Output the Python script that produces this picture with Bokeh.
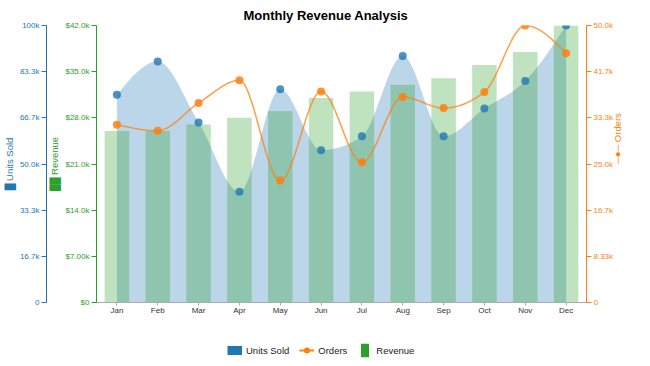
import math
import numpy as np
from bokeh.plotting import figure
from bokeh.models import (Range1d, LinearAxis, FixedTicker, ColumnDataSource, Legend,
                          LegendItem)
from bokeh.layouts import column
from bokeh.embed import file_html
from bokeh.resources import INLINE

# ---------------- data ----------------
months = ["Jan", "Feb", "Mar", "Apr", "May", "Jun", "Jul", "Aug", "Sep", "Oct", "Nov", "Dec"]
units_sold = [75000, 87000, 65000, 40000, 77000, 55000, 60000, 89000, 60000, 70000, 80000, 100000]
orders = [32100, 31000, 36000, 40100, 22000, 38100, 25300, 37100, 35100, 38000, 50000, 45000]
revenue = [26000, 26000, 27000, 28000, 29000, 31000, 32000, 33000, 34000, 36000, 38000, 42000]

revenue_ticks = [0, 7000, 14000, 21000, 28000, 35000, 42000]
revenue_tick_labels = ["$0", "$7.00k", "$14.0k", "$21.0k", "$28.0k", "$35.0k", "$42.0k"]
units_ticks = [0, 100000 / 6, 200000 / 6, 50000, 400000 / 6, 500000 / 6, 100000]
units_tick_labels = ["0", "16.7k", "33.3k", "50.0k", "66.7k", "83.3k", "100k"]
orders_ticks = [0, 50000 / 6, 100000 / 6, 25000, 200000 / 6, 250000 / 6, 50000]
orders_tick_labels = ["0", "8.33k", "16.7k", "25.0k", "33.3k", "41.7k", "50.0k"]

BLUE, ORANGE, GREEN = "#1f77b4", "#ff7f0e", "#2ca02c"
FONT = "Liberation Sans"


def monotone_curve(ys, n=30):
    """Monotone-X cubic (as d3.curveMonotoneX) through points at x = 0..len-1."""
    y = np.asarray(ys, dtype=float)
    m = len(y)
    s = np.diff(y)
    t = np.zeros(m)
    for i in range(1, m - 1):
        s0, s1 = s[i - 1], s[i]
        p = (s0 + s1) / 2.0
        t[i] = (np.sign(s0) + np.sign(s1)) * min(abs(s0), abs(s1), 0.5 * abs(p))
    t[0] = (3 * s[0] - t[1]) / 2.0
    t[-1] = (3 * s[-1] - t[-2]) / 2.0
    xs, yy = [], []
    u = np.linspace(0, 1, n, endpoint=False)
    for i in range(m - 1):
        h00 = 2 * u**3 - 3 * u**2 + 1
        h10 = u**3 - 2 * u**2 + u
        h01 = -2 * u**3 + 3 * u**2
        h11 = u**3 - u**2
        xs.extend(i + u)
        yy.extend(h00 * y[i] + h10 * t[i] + h01 * y[i + 1] + h11 * t[i + 1])
    xs.append(m - 1)
    yy.append(y[-1])
    return np.array(xs), np.array(yy)


idx = list(range(len(months)))
ux, uy = monotone_curve(units_sold)
ox, oy = monotone_curve(orders)

src = ColumnDataSource(dict(x=idx, month=months, units=units_sold, orders=orders, revenue=revenue))

p = figure(width=650, height=334, x_range=Range1d(-0.5, 11.5), y_range=Range1d(0, 42000),
           output_backend="svg", toolbar_location=None, title="Monthly Revenue Analysis",
           min_border_left=96, min_border_right=64, min_border_top=25, min_border_bottom=32)
p.extra_y_ranges = {"units": Range1d(0, 100000), "orders": Range1d(0, 50000)}
p.grid.visible = False
p.outline_line_color = None
p.background_fill_color = "white"

p.title.align = "left"
p.title.offset = 147
p.title.text_font = FONT
p.title.text_font_size = "13px"
p.title.text_font_style = "bold"
p.title.text_color = "#000000"
p.title.standoff = 6

# glyphs
p.varea(x=ux, y1=0, y2=uy, y_range_name="units", fill_color=BLUE, fill_alpha=0.3)
p.vbar(x="x", top="revenue", width=0.6, source=src, fill_color=GREEN, fill_alpha=0.3, line_color=None)
p.line(x=ox, y=oy, y_range_name="orders", line_color=ORANGE, line_width=1.5, line_alpha=0.75)
p.scatter(x="x", y="units", source=src, y_range_name="units", size=8, fill_color=BLUE,
          fill_alpha=0.8, line_color=None)
p.scatter(x="x", y="orders", source=src, y_range_name="orders", size=8, fill_color=ORANGE,
          fill_alpha=0.85, line_color=None)


def style_axis(ax, color, ticks, labels, label):
    ax.ticker = FixedTicker(ticks=ticks)
    ax.major_label_overrides = dict(zip(ticks, labels))
    ax.axis_line_color = color
    ax.major_tick_line_color = color
    ax.minor_tick_line_color = None
    ax.major_tick_out = 5
    ax.major_tick_in = 0
    ax.major_label_standoff = 2
    ax.major_label_text_color = color
    ax.major_label_text_font = FONT
    ax.major_label_text_font_size = "8px"
    ax.axis_label = label
    ax.axis_label_text_color = color
    ax.axis_label_text_font = FONT
    ax.axis_label_text_font_size = "9.5px"
    ax.axis_label_text_font_style = "normal"


# revenue (inner left); each axis title is preceded by its series swatch
style_axis(p.yaxis[0], GREEN, revenue_ticks, revenue_tick_labels, "\u2588\u2588 Revenue")
p.yaxis[0].axis_label_standoff = 2

units_axis = LinearAxis(y_range_name="units")
style_axis(units_axis, BLUE, units_ticks, units_tick_labels, "\u2588 Units Sold")
units_axis.axis_label_standoff = 2
p.add_layout(units_axis, "left")

orders_axis = LinearAxis(y_range_name="orders")
style_axis(orders_axis, ORANGE, orders_ticks, orders_tick_labels, "\u2500\u25cf\u2500 Orders")
orders_axis.axis_label_standoff = 1
orders_axis.axis_label_orientation = math.pi / 2
p.add_layout(orders_axis, "right")

xa = p.xaxis[0]
xa.ticker = FixedTicker(ticks=idx)
xa.major_label_overrides = dict(zip(idx, months))
xa.axis_line_color = "#aaaaaa"
xa.major_tick_line_color = "#aaaaaa"
xa.minor_tick_line_color = None
xa.major_tick_out = 3
xa.major_tick_in = 0
xa.major_label_standoff = 0
xa.major_label_text_font = FONT
xa.major_label_text_font_size = "8px"
xa.major_label_text_color = "#333333"

# ---------------- legend strip ----------------
lg = figure(width=650, height=32, x_range=Range1d(0, 1), y_range=Range1d(0, 1),
            output_backend="svg", toolbar_location=None, x_axis_type=None, y_axis_type=None,
            min_border=0)
lg.grid.visible = False
lg.outline_line_color = None
dummy = ColumnDataSource(dict(x=[np.nan], y=[np.nan], top=[np.nan]))
r_units = lg.line(x="x", y="y", source=dummy, line_color=BLUE, line_width=9, line_cap="butt")
r_ord_l = lg.line(x="x", y="y", source=dummy, line_color=ORANGE, line_width=2)
r_ord_p = lg.scatter(x="x", y="y", source=dummy, size=8, fill_color=ORANGE, line_color=None)
r_rev = lg.vbar(x="x", top="top", source=dummy, width=0.1, fill_color=GREEN, line_color="white",
                line_width=4)
legend = Legend(items=[LegendItem(label="Units Sold", renderers=[r_units]),
                       LegendItem(label="Orders", renderers=[r_ord_l, r_ord_p]),
                       LegendItem(label="Revenue", renderers=[r_rev])],
                orientation="horizontal", location=(131, 5), glyph_width=15, glyph_height=22,
                label_standoff=4, spacing=10, padding=0, margin=0, border_line_alpha=0,
                background_fill_alpha=0, label_text_font=FONT, label_text_font_size="9.5px",
                label_text_color="#222222")
lg.add_layout(legend, "center")

layout = column(p, lg, spacing=0)
open("out.html", "w").write(file_html(layout, INLINE))
